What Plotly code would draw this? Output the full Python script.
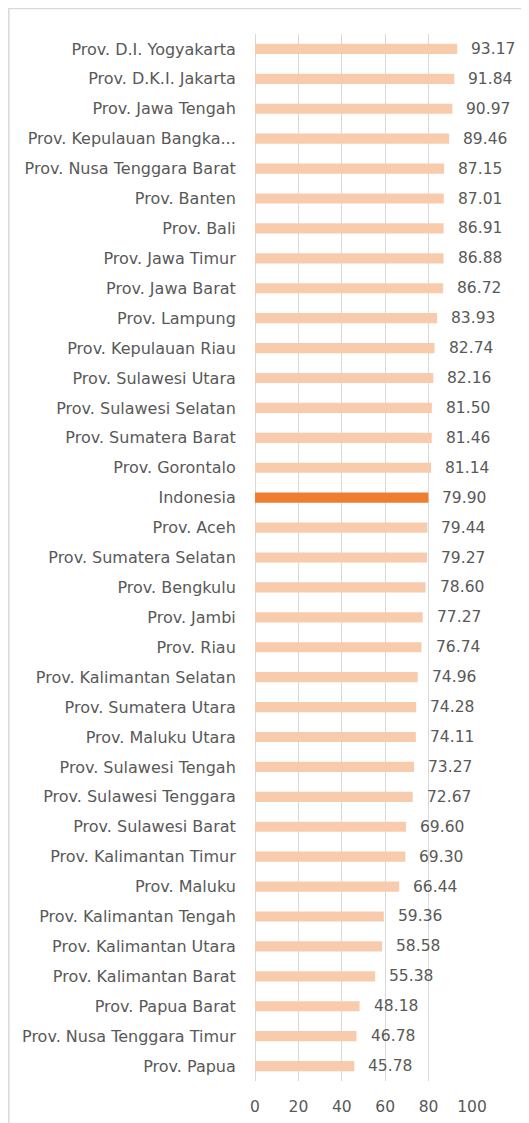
import plotly.graph_objects as go

provinces = [
    "Prov. D.I. Yogyakarta", "Prov. D.K.I. Jakarta", "Prov. Jawa Tengah",
    "Prov. Kepulauan Bangka...", "Prov. Nusa Tenggara Barat", "Prov. Banten",
    "Prov. Bali", "Prov. Jawa Timur", "Prov. Jawa Barat", "Prov. Lampung",
    "Prov. Kepulauan Riau", "Prov. Sulawesi Utara", "Prov. Sulawesi Selatan",
    "Prov. Sumatera Barat", "Prov. Gorontalo", "Indonesia", "Prov. Aceh",
    "Prov. Sumatera Selatan", "Prov. Bengkulu", "Prov. Jambi", "Prov. Riau",
    "Prov. Kalimantan Selatan", "Prov. Sumatera Utara", "Prov. Maluku Utara",
    "Prov. Sulawesi Tengah", "Prov. Sulawesi Tenggara", "Prov. Sulawesi Barat",
    "Prov. Kalimantan Timur", "Prov. Maluku", "Prov. Kalimantan Tengah",
    "Prov. Kalimantan Utara", "Prov. Kalimantan Barat", "Prov. Papua Barat",
    "Prov. Nusa Tenggara Timur", "Prov. Papua",
]
values = [
    93.17, 91.84, 90.97, 89.46, 87.15, 87.01, 86.91, 86.88, 86.72, 83.93,
    82.74, 82.16, 81.50, 81.46, 81.14, 79.90, 79.44, 79.27, 78.60, 77.27,
    76.74, 74.96, 74.28, 74.11, 73.27, 72.67, 69.60, 69.30, 66.44, 59.36,
    58.58, 55.38, 48.18, 46.78, 45.78,
]
x_ticks = [0, 20, 40, 60, 80, 100]
highlight = "Indonesia"

PEACH = "#F8CBAD"
ORANGE = "#ED7D31"
TXT = "#595959"
FONT = "DejaVu Sans"

colors = [ORANGE if p == highlight else PEACH for p in provinces]

L, T, PW, PH = 247, 26, 217.3, 1047
W, H = 529, 1123

fig = go.Figure(go.Bar(
    x=values, y=provinces, orientation="h",
    marker=dict(color=colors, line=dict(width=0)),
    width=0.34, hoverinfo="skip",
))

annotations = [
    dict(x=v, y=p, xref="x", yref="y", text=f"{v:.2f}", showarrow=False,
         xanchor="left", xshift=12, font=dict(family=FONT, size=15.5, color=TXT))
    for p, v in zip(provinces, values)
]

fig.update_layout(
    width=W, height=H,
    margin=dict(l=L, r=W - L - PW, t=T, b=H - T - PH),
    paper_bgcolor="white", plot_bgcolor="white",
    showlegend=False,
    annotations=annotations,
    font=dict(family=FONT, size=16, color=TXT),
    xaxis=dict(range=[0, 100], tickvals=x_ticks, showgrid=True,
               gridcolor="#D9D9D9", gridwidth=1, zeroline=True,
               zerolinecolor="#D9D9D9", zerolinewidth=1, showline=False,
               ticks="outside", ticklen=11, tickcolor="rgba(0,0,0,0)",
               tickfont=dict(family=FONT, size=15.5, color=TXT), fixedrange=True),
    yaxis=dict(autorange="reversed", showgrid=False, showline=False,
               ticks="outside", ticklen=15, tickcolor="rgba(0,0,0,0)",
               tickfont=dict(family=FONT, size=16, color=TXT), fixedrange=True),
    shapes=[dict(type="rect", xref="paper", yref="paper",
                 x0=(0.5 - L) / PW, x1=2, y0=-0.5, y1=1 + (T - 0.5) / PH,
                 line=dict(color="#D9D9D9", width=1.5), layer="below")],
)

fig.write_html("out.html")
